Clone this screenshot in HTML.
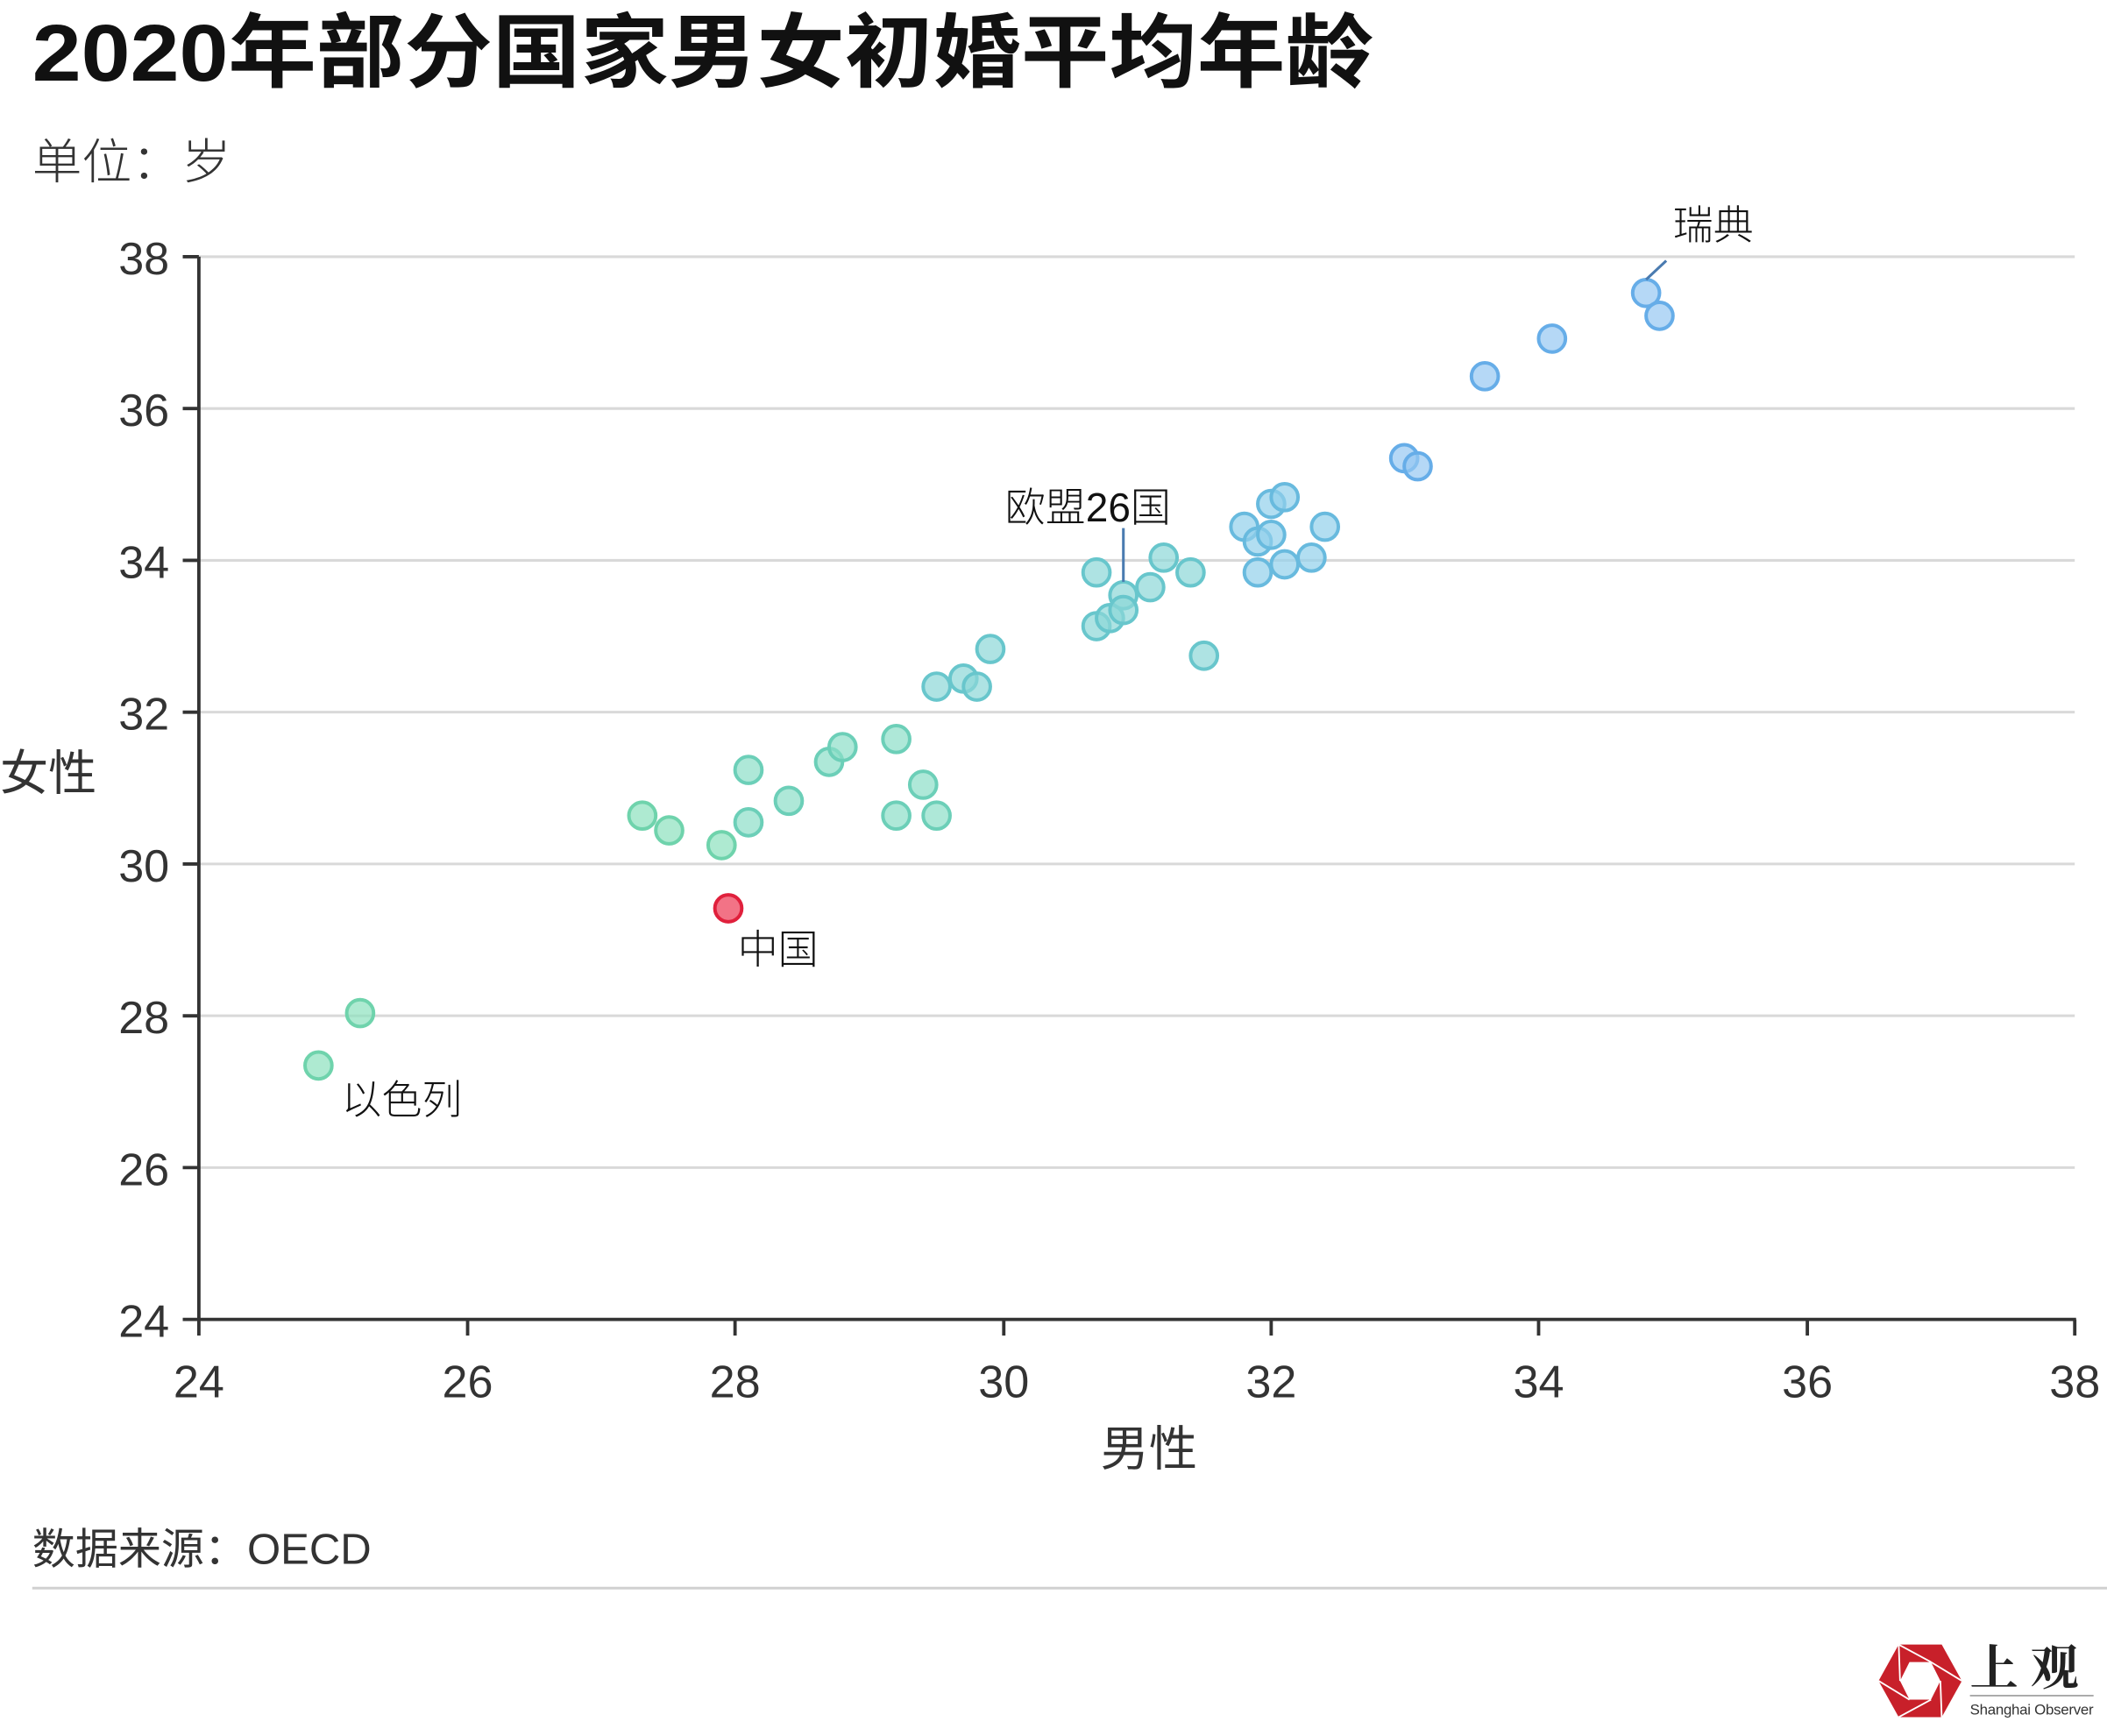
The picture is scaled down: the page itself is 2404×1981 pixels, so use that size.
<!DOCTYPE html>
<html><head><meta charset="utf-8"><style>html,body{margin:0;padding:0;background:#fff}svg{display:block}</style></head>
<body>
<svg width="2404" height="1981" viewBox="0 0 1568 1292" xmlns="http://www.w3.org/2000/svg" font-family="'Liberation Sans','Noto Sans CJK SC',sans-serif">
<rect width="1568" height="1292" fill="#fff"/>
<text x="24" y="60" font-size="60" font-weight="bold" fill="#111" textLength="998" lengthAdjust="spacingAndGlyphs">2020年部分国家男女初婚平均年龄</text>
<text x="24" y="133" font-size="36" fill="#333" font-weight="300" textLength="148" lengthAdjust="spacingAndGlyphs">单位：岁</text>
<g stroke="#d9d9d9" stroke-width="2">
<line x1="148" x2="1544" y1="191" y2="191"/><line x1="148" x2="1544" y1="304" y2="304"/><line x1="148" x2="1544" y1="417" y2="417"/><line x1="148" x2="1544" y1="530" y2="530"/><line x1="148" x2="1544" y1="643" y2="643"/><line x1="148" x2="1544" y1="756" y2="756"/><line x1="148" x2="1544" y1="869" y2="869"/>
</g>
<g stroke="#333" stroke-width="2.5">
<line x1="148" x2="148" y1="191" y2="983"/><line x1="148" x2="1545" y1="982" y2="982"/>
<line x1="136" x2="148" y1="191" y2="191"/><line x1="136" x2="148" y1="304" y2="304"/><line x1="136" x2="148" y1="417" y2="417"/><line x1="136" x2="148" y1="530" y2="530"/><line x1="136" x2="148" y1="643" y2="643"/><line x1="136" x2="148" y1="756" y2="756"/><line x1="136" x2="148" y1="869" y2="869"/><line x1="136" x2="148" y1="982" y2="982"/>
<line x1="148" x2="148" y1="982" y2="994"/><line x1="348" x2="348" y1="982" y2="994"/><line x1="547" x2="547" y1="982" y2="994"/><line x1="747" x2="747" y1="982" y2="994"/><line x1="946" x2="946" y1="982" y2="994"/><line x1="1145" x2="1145" y1="982" y2="994"/><line x1="1345" x2="1345" y1="982" y2="994"/><line x1="1544" x2="1544" y1="982" y2="994"/>
</g>
<g font-size="34" fill="#333" text-anchor="end">
<text x="126" y="204">38</text><text x="126" y="317">36</text><text x="126" y="430">34</text><text x="126" y="543">32</text><text x="126" y="656">30</text><text x="126" y="769">28</text><text x="126" y="882">26</text><text x="126" y="995">24</text>
</g>
<g font-size="34" fill="#333" text-anchor="middle">
<text x="148" y="1040">24</text><text x="348" y="1040">26</text><text x="547" y="1040">28</text><text x="747" y="1040">30</text><text x="946" y="1040">32</text><text x="1145" y="1040">34</text><text x="1345" y="1040">36</text><text x="1544" y="1040">38</text>
</g>
<text x="0" y="588" font-size="36" fill="#333">女性</text>
<text x="855" y="1091" font-size="36" fill="#333" text-anchor="middle">男性</text>
<g stroke-width="2.6">
<g fill="rgba(140,225,190,0.7)" stroke="#6fd3ac">
<circle cx="237" cy="793" r="10"/><circle cx="268" cy="754" r="10"/><circle cx="478" cy="607" r="10"/><circle cx="498" cy="618" r="10"/><circle cx="537" cy="629" r="10"/>
</g>
<g fill="rgba(140,222,200,0.7)" stroke="#6ccfb8">
<circle cx="557" cy="573" r="10"/><circle cx="557" cy="612" r="10"/><circle cx="587" cy="596" r="10"/><circle cx="617" cy="567" r="10"/><circle cx="627" cy="556" r="10"/><circle cx="667" cy="550" r="10"/><circle cx="667" cy="607" r="10"/><circle cx="687" cy="584" r="10"/><circle cx="697" cy="607" r="10"/>
</g>
<g fill="rgba(140,215,215,0.7)" stroke="#68c6cc">
<circle cx="697" cy="511" r="10"/><circle cx="717" cy="505" r="10"/><circle cx="727" cy="511" r="10"/><circle cx="737" cy="483" r="10"/><circle cx="816" cy="426" r="10"/><circle cx="816" cy="466" r="10"/><circle cx="826" cy="460" r="10"/><circle cx="836" cy="443" r="10"/><circle cx="836" cy="454" r="10"/><circle cx="856" cy="437" r="10"/><circle cx="866" cy="415" r="10"/><circle cx="886" cy="426" r="10"/><circle cx="896" cy="488" r="10"/>
</g>
<g fill="rgba(145,208,235,0.7)" stroke="#68bade">
<circle cx="926" cy="392" r="10"/><circle cx="936" cy="403" r="10"/><circle cx="936" cy="426" r="10"/><circle cx="946" cy="375" r="10"/><circle cx="946" cy="398" r="10"/><circle cx="956" cy="370" r="10"/><circle cx="956" cy="420" r="10"/><circle cx="976" cy="415" r="10"/><circle cx="986" cy="392" r="10"/>
</g>
<g fill="rgba(150,200,242,0.7)" stroke="#66ade8">
<circle cx="1045" cy="341" r="10"/><circle cx="1055" cy="347" r="10"/><circle cx="1105" cy="280" r="10"/><circle cx="1155" cy="252" r="10"/><circle cx="1225" cy="218" r="10"/><circle cx="1235" cy="235" r="10"/>
</g>
<circle cx="542" cy="676" r="10" fill="#f27386" stroke="#e0203c"/>
</g>
<line x1="836" y1="393" x2="836" y2="433" stroke="#4a7bb0" stroke-width="2"/>
<line x1="1240" y1="194" x2="1225" y2="208" stroke="#4a7bb0" stroke-width="2"/>
<g font-size="30" fill="#111" font-weight="300">
<text x="748" y="388">欧盟26国</text>
<text x="1245" y="178">瑞典</text>
<text x="549" y="717">中国</text>
<text x="254" y="829">以色列</text>
</g>
<text x="24" y="1164" font-size="32" fill="#333">数据来源：OECD</text>
<line x1="24" x2="1568" y1="1182" y2="1182" stroke="#d0d0d0" stroke-width="2"/>
<g transform="translate(1429,1251)">
<polygon points="-16,-27 16,-27 31,0 16,27 -16,27 -31,0" fill="#c8202a"/>
<polygon points="-8,-14 8,-14 15,0 8,14 -8,14 -15,0" fill="#fff"/>
<g stroke="#fff" stroke-width="1.2"><line x1="-16" y1="-27" x2="8" y2="-14"/><line x1="31" y1="0" x2="8" y2="-14"/><line x1="16" y1="27" x2="15" y2="0"/><line x1="-16" y1="27" x2="8" y2="14"/><line x1="-31" y1="0" x2="-8" y2="14"/><line x1="-16" y1="-27" x2="-15" y2="0"/></g>
</g>
<text x="1466" y="1254" font-size="36" fill="#222" font-family="'Noto Serif CJK SC',serif" font-weight="bold">上 观</text>
<line x1="1466" y1="1262" x2="1558" y2="1262" stroke="#999" stroke-width="1"/>
<text x="1466" y="1276" font-size="11" fill="#333" textLength="92">Shanghai Observer</text>
</svg>
</body></html>
